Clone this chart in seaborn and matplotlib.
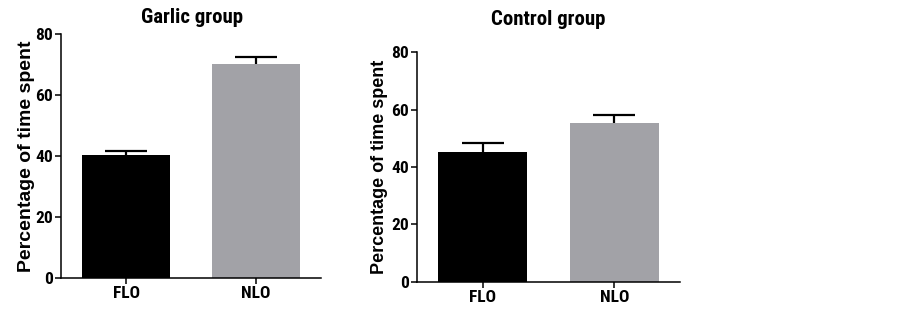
import numpy as np
import pandas as pd
import matplotlib
matplotlib.use("Agg")
import matplotlib.pyplot as plt
import seaborn as sns

## data
categories = ["FLO", "NLO"]
garlic_means = [40.3, 70.2]
garlic_sem = [1.5, 2.3]
control_means = [45.3, 55.2]
control_sem = [3.2, 2.9]
y_ticks = [0, 20, 40, 60, 80]

bar_colors = ["#000000", "#A2A2A7"]
narrow = ["Roboto Condensed", "Liberation Sans", "DejaVu Sans"]
wide = ["Liberation Sans", "Arimo", "DejaVu Sans"]

sns.set_style("ticks")
plt.rcParams["font.family"] = narrow
plt.rcParams["font.weight"] = "bold"
plt.rcParams["text.color"] = "black"

fig = plt.figure(figsize=(9.03, 3.12), dpi=100)
ax1 = fig.add_axes([0.0676, 0.1099, 0.2879, 0.7801])
ax2 = fig.add_axes([0.4618, 0.0971, 0.2913, 0.7353])


def draw_panel(ax, means, sem, label_size, label_x):
    df = pd.DataFrame({"cond": categories, "pct": means})
    sns.barplot(data=df, x="cond", y="pct", hue="cond", palette=bar_colors,
                legend=False, width=0.68, saturation=1, linewidth=0, ax=ax)
    eb = ax.errorbar(x=np.arange(len(categories)), y=means,
                     yerr=[np.zeros(len(sem)), sem], fmt="none",
                     ecolor="black", elinewidth=1.6, capsize=15.3, capthick=1.6)
    # only the upper half of the error bar is shown
    eb[1][0].set_visible(False)
    ax.set_xlim(-0.5, 1.5)
    ax.set_ylim(0, 80)
    ax.set_yticks(y_ticks)
    ax.set_xlabel("")
    ax.set_ylabel("Percentage of time spent", family=wide, weight="bold",
                  size=label_size, color="black")
    ax.yaxis.set_label_coords(label_x, 0.5)
    sns.despine(ax=ax)
    for side in ["left", "bottom"]:
        ax.spines[side].set_linewidth(1.1)
        ax.spines[side].set_color("black")
    ax.tick_params(axis="both", direction="out", length=4.3, width=1.1,
                   color="black", labelsize=12.5, labelcolor="black", pad=1.5)
    for lab in ax.get_xticklabels() + ax.get_yticklabels():
        lab.set_fontweight("bold")


draw_panel(ax1, garlic_means, garlic_sem, 14, -0.1)
draw_panel(ax2, control_means, control_sem, 13, -0.109)

fig.text(0.213, 0.925, "Garlic group", ha="center", va="baseline",
         size=15, weight="bold")
fig.text(0.607, 0.92, "Control group", ha="center", va="baseline",
         size=15, weight="bold")

plt.savefig("out.png", dpi=100)
